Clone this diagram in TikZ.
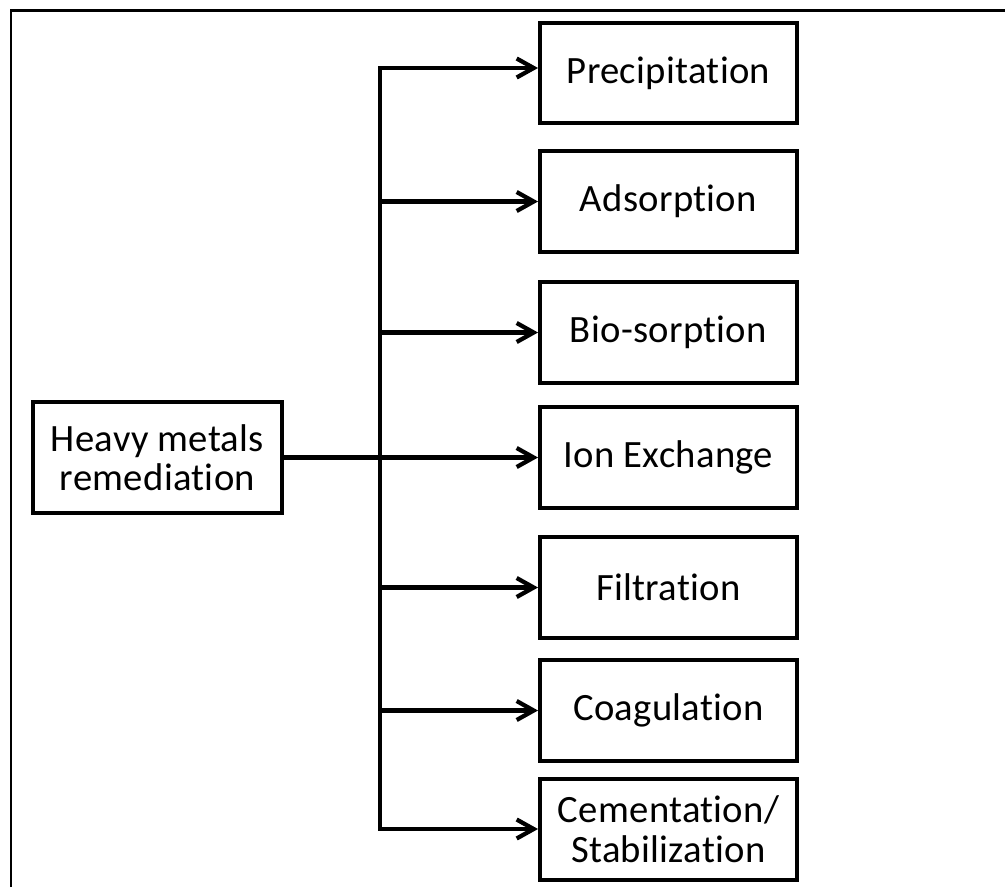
\documentclass[tikz,border=0pt]{standalone}
\usepackage{fontspec}
\setmainfont[RawFeature=-liga,LetterSpace=0.8]{Carlito}
\usetikzlibrary{arrows.meta}
\begin{document}
\begin{tikzpicture}[x=0.02cm,y=-0.02cm,
  methode/.style={draw,line width=0.08cm,minimum width=5.14cm,minimum height=2.02cm,
    align=center,inner sep=0pt,font=\fontsize{22}{22.5}\selectfont},
  fleche/.style={-{Straight Barb[length=0.34cm,width=0.38cm]},line width=0.085cm}]
\pgfmathsetmacro{\xbus}{380}
\pgfmathsetmacro{\xbox}{668.5}
\useasboundingbox (0,0) rectangle (1005,887);
  \draw[line width=0.06cm] (11,887) -- (11,10) -- (1005,10);
  % source
  \node[methode,minimum width=4.98cm,minimum height=2.22cm] (heavy) at (157.5,457.5) {Heavy metals\\remediation};
  % methods
  \node[methode] (prec) at (\xbox,73) {Precipitation};
  \node[methode] (ads) at (\xbox,201.5) {Adsorption};
  \node[methode] (bio) at (\xbox,332.5) {Bio-sorption};
  \node[methode] (ion) at (\xbox,457.5) {Ion Exchange};
  \node[methode] (fil) at (\xbox,587.5) {Filtration};
  \node[methode] (coa) at (\xbox,710.5) {Coagulation};
  \node[methode] (cem) at (\xbox,829) {Cementation/\\Stabilization};
  \coordinate (bus) at (\xbus,0);
  \coordinate (precin) at ([yshift=0.1cm]prec.west);
  \coordinate (haut) at (bus |- precin);
  \coordinate (bas) at (bus |- cem.west);
  \draw[line width=0.085cm,line cap=rect] (haut) -- (bas);
  \draw[fleche] (haut) -- (precin);
  \draw[fleche] (bus |- ads.west) -- (ads.west);
  \draw[fleche] (bus |- bio.west) -- (bio.west);
  \draw[fleche] (heavy.east) -- (ion.west);
  \draw[fleche] (bus |- fil.west) -- (fil.west);
  \draw[fleche] (bus |- coa.west) -- (coa.west);
  \draw[fleche] (bas) -- (cem.west);
\end{tikzpicture}
\end{document}
